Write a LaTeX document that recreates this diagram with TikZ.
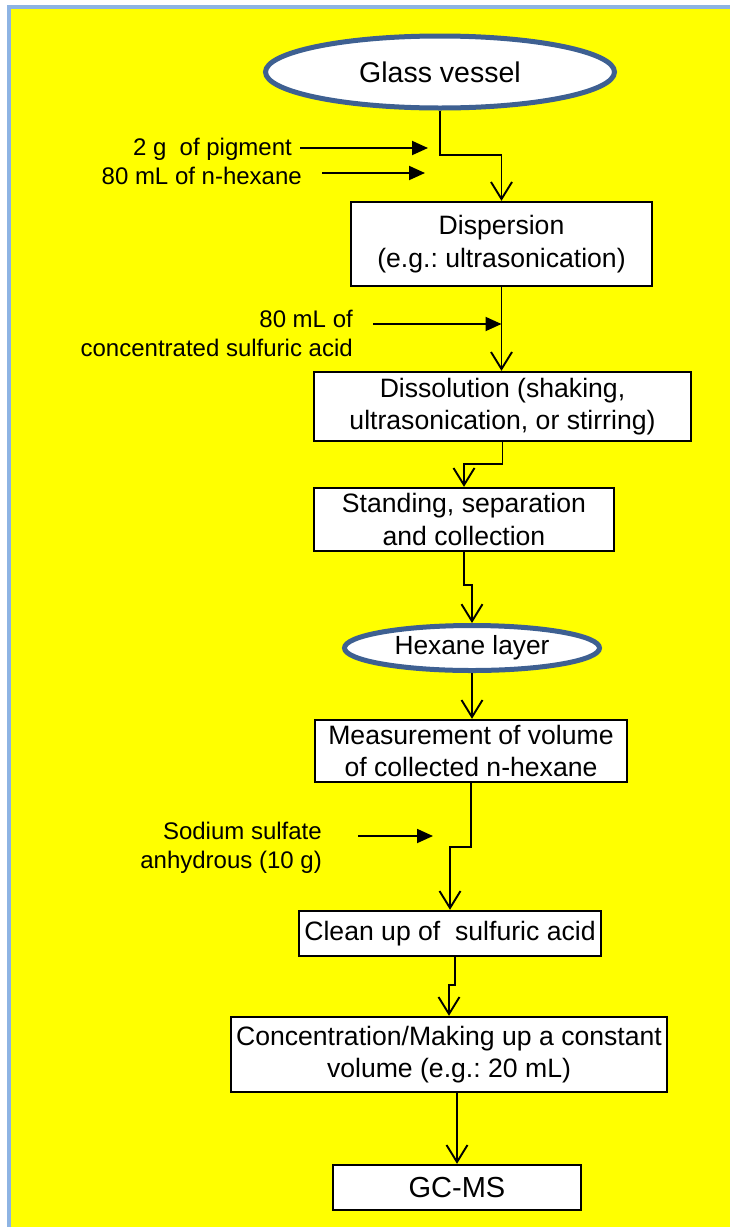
\documentclass[tikz,border=0pt]{standalone}
\usepackage{fontspec}
\setmainfont{Liberation Sans}
\frenchspacing
\usetikzlibrary{arrows.meta,shapes.geometric,calc}
\definecolor{frameblue}{RGB}{142,180,227}
\definecolor{ellblue}{RGB}{62,96,145}
\definecolor{bgyellow}{RGB}{255,255,0}
\begin{document}
\begin{tikzpicture}[x=1pt,y=-1pt,
  boxtxt/.style={font=\fontsize{26.6}{32.5}\selectfont},
  stepbox/.style={draw=black,line width=2.4pt,fill=white,rectangle,align=center,inner sep=0pt,boxtxt},
  ellnode/.style={draw=ellblue,line width=5pt,fill=white,ellipse,inner sep=0pt},
  lbl/.style={font=\fontsize{24}{29}\selectfont,align=right,inner sep=0pt},
  conn/.style={draw=black,line width=1.9pt,-{Straight Barb[length=17pt,width=21pt,line width=1.9pt]}},
  inarrow/.style={draw=black,line width=1.9pt,-{Triangle[length=16pt,width=14pt]}}]
\useasboundingbox (0,0) rectangle (730,1227);
\fill[white] (0,0) rectangle (730,1227);
\fill[frameblue] (7,5) rectangle (730,1227);
\fill[bgyellow] (11,9) rectangle (730,1227);

% nodes
\node[ellnode,minimum width=349pt,minimum height=72pt,font=\fontsize{28.5}{34}\selectfont] (gv) at (440,72) {Glass vessel};
\node[stepbox,minimum width=301pt,minimum height=84pt] (disp) at (501.5,244) {Dispersion\\(e.g.: ultrasonication)};
\node[stepbox,minimum width=377pt,minimum height=69pt] (diss) at (502.5,406.5) {Dissolution (shaking,\\ultrasonication, or stirring)};
\node[stepbox,minimum width=300pt,minimum height=63pt] (stand) at (464,519.5) {Standing, separation\\and collection};
\node[ellnode,minimum width=255pt,minimum height=45pt,font=\fontsize{26.3}{30}\selectfont] (hex) at (472,648) {Hexane layer};
\node[stepbox,minimum width=312pt,minimum height=62pt] (meas) at (471,751) {Measurement of volume\\of collected n-hexane};
\node[stepbox,minimum width=302pt,minimum height=45pt] (clean) at (450,933.5) {Clean up of~ sulfuric acid};
\node[stepbox,minimum width=436pt,minimum height=75pt] (conc) at (449,1054.5) {Concentration/Making up a constant\\volume (e.g.: 20 mL)};
\node[stepbox,minimum width=248pt,minimum height=45pt,font=\fontsize{29}{34}\selectfont] (gcms) at (457,1187.5) {GC-MS};

% side labels
\node[lbl,anchor=east] (pig) at (292,149) {2 g~ of pigment};
\node[lbl,anchor=east] (hexin) at (302,176) {80 mL of n-hexane};
\node[lbl,anchor=east] (acid) at (353,333) {80 mL of\\concentrated sulfuric acid};
\node[lbl,anchor=east] (sod) at (322,848) {Sodium sulfate\\anhydrous (10 g)};

% junction coordinates
\coordinate (j1) at (501.5,155);
\coordinate (j3) at (464,464);
\coordinate (j4) at (472,585);
\coordinate (j6) at (450,847);
\coordinate (j7a) at (455,985);
\coordinate (j7b) at (449,985);
\coordinate (p1s) at (300,148);
\coordinate (p1e) at (428,148);
\coordinate (p2s) at (322,173);
\coordinate (p2e) at (425,173);
\coordinate (p3s) at (373,324);
\coordinate (p4s) at (358,836);
\coordinate (p4e) at (433,836);

% main flow
\draw[conn] (gv.south) |- (j1) -- (disp.north);
\draw[conn] (disp.south) -- (disp.south |- diss.north);
\draw[conn] (diss.south) |- (j3) -- (stand.north);
\draw[conn] (stand.south) |- (j4) -- (hex.north);
\draw[conn] (hex.south) -- (hex.south |- meas.north);
\draw[conn] (meas.south) |- (j6) -- (clean.north);
\draw[conn] (clean.south -| j7a) -- (j7a) -- (j7b) -- (conc.north);
\draw[conn] (gcms.north |- conc.south) -- (gcms.north);

% inputs
\draw[inarrow] (p1s) -- (p1e);
\draw[inarrow] (p2s) -- (p2e);
\draw[inarrow] (p3s) -- (p3s -| disp.south);
\draw[inarrow] (p4s) -- (p4e);
\end{tikzpicture}
\end{document}
